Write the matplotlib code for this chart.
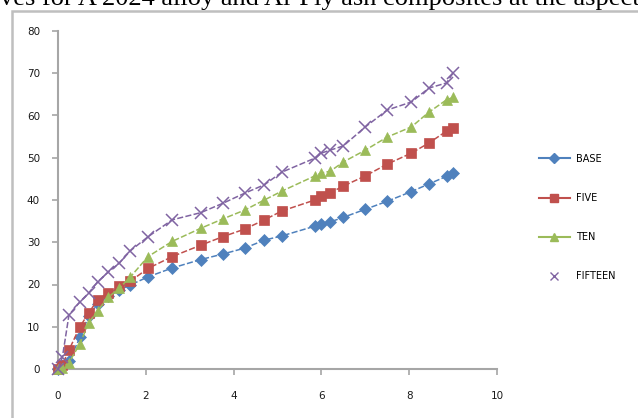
import matplotlib
matplotlib.use("Agg")
import matplotlib.pyplot as plt
from matplotlib.lines import Line2D
from matplotlib.patches import Rectangle

# ---- data ----
x_vals = [0, 0.1, 0.25, 0.5, 0.7, 0.9, 1.15, 1.4, 1.65, 2.05, 2.6, 3.25, 3.75,
          4.25, 4.7, 5.1, 5.85, 6.0, 6.2, 6.5, 7.0, 7.5, 8.05, 8.45, 8.85, 9.0]
base = [0, 0.8, 1.8, 7.5, 12.5, 15.5, 17.2, 18.7, 19.9, 21.8, 23.9, 25.9, 27.2,
        28.6, 30.5, 31.5, 33.8, 34.3, 34.8, 35.9, 37.8, 39.7, 42.0, 43.8, 45.6, 46.4]
five = [0, 1.0, 4.5, 10.0, 13.3, 16.3, 18.0, 19.7, 20.8, 23.8, 26.6, 29.3, 31.3,
        33.1, 35.3, 37.4, 40.0, 40.9, 41.7, 43.3, 45.7, 48.5, 51.1, 53.5, 56.3, 57.0]
ten = [0, 0.3, 1.5, 6.0, 10.9, 13.8, 17.0, 19.2, 21.8, 26.6, 30.2, 33.3, 35.5,
       37.6, 40.0, 42.1, 45.7, 46.4, 46.8, 49.0, 51.8, 54.9, 57.3, 60.8, 63.7, 64.3]
fifteen = [0, 2.8, 12.8, 15.9, 18.0, 20.6, 23.0, 25.1, 28.0, 31.3, 35.3, 37.0, 39.2,
           41.6, 43.6, 46.6, 49.9, 51.1, 51.8, 52.8, 57.3, 61.3, 63.2, 66.5, 67.7, 70.1]
series_names = ["BASE", "FIVE", "TEN", "FIFTEEN"]
x_ticks = [0, 2, 4, 6, 8, 10]
y_ticks = [0, 10, 20, 30, 40, 50, 60, 70, 80]
title_text = "ves for A 2024 alloy and Al-Fly ash composites at the aspect"

colors = ["#4F81BD", "#C0504D", "#9BBB59", "#8064A2"]
markers = ["D", "s", "^", "x"]
msizes = [6, 7, 7.5, 8]

fig = plt.figure(figsize=(6.38, 4.18), dpi=100)
ax = fig.add_axes([58 / 638, 1 - 369 / 418, (497 - 58) / 638, (369 - 31) / 418])

for ys, c, m, ms in zip([base, five, ten, fifteen], colors, markers, msizes):
    ax.plot(x_vals, ys, color=c, marker=m, markersize=ms, linewidth=1.1,
            linestyle=(0, (4, 1.5)), markeredgewidth=1.1 if m == "x" else 0.5,
            markeredgecolor=c, markerfacecolor=c, clip_on=False, zorder=3)

ax.set_xlim(0, 10)
ax.set_ylim(0, 80)
ax.set_xticks(x_ticks)
ax.set_yticks(y_ticks)
for s in ["top", "right"]:
    ax.spines[s].set_visible(False)
for s in ["left", "bottom"]:
    ax.spines[s].set_color("#A6A6A6")
    ax.spines[s].set_linewidth(1.5)
ax.tick_params(direction="out", length=4, width=1.2, color="#A6A6A6",
               labelsize=7.5, labelcolor="#1a1a1a")
ax.tick_params(axis="y", pad=9)
ax.tick_params(axis="x", pad=12)

handles = []
for i, (c, m, ms) in enumerate(zip(colors, markers, msizes)):
    ls = "-" if i < 3 else "None"
    handles.append(Line2D([0], [0], color=c, marker=m, markersize=ms * 0.8,
                          linewidth=1.5, linestyle=ls, markerfacecolor=c,
                          markeredgecolor=c))
fig.legend(handles, series_names, loc="upper left",
           bbox_to_anchor=(530 / 638, 1 - 145 / 418), frameon=False,
           fontsize=7, labelspacing=3.0, handlelength=3.2, handletextpad=0.6)

# outer chart frame
fig.add_artist(Rectangle((12 / 638, -0.2), 1.2, 1.2 - 11 / 418,
                         transform=fig.transFigure, fill=False,
                         edgecolor="#BFBFBF", linewidth=1.8))

fig.text(0.0, 1 - 5 / 418, title_text, family="Liberation Serif", fontsize=19,
         ha="left", va="baseline", color="black")

fig.savefig("out.png", dpi=100, facecolor="white")
